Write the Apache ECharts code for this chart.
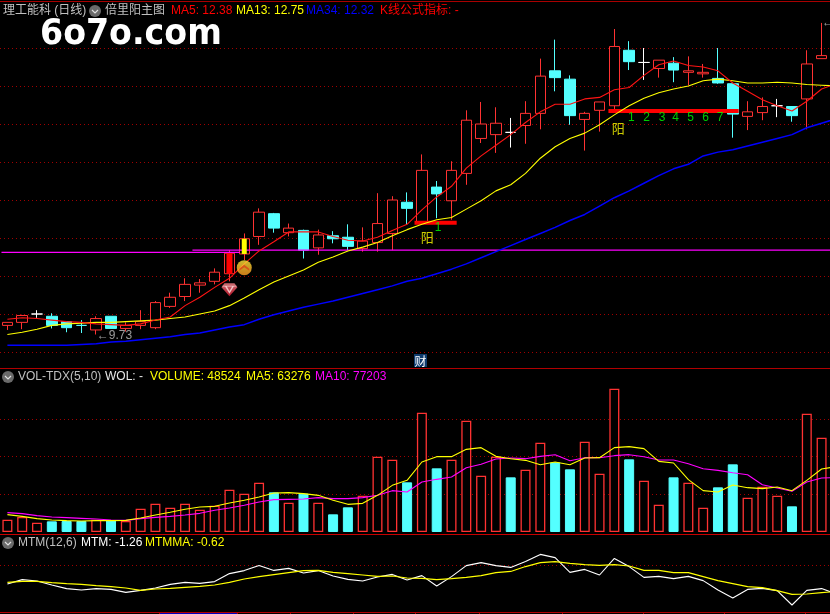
<!DOCTYPE html>
<html><head><meta charset="utf-8">
<style>html,body{margin:0;padding:0;background:#000}#c{width:830px;height:614px}</style>
<script src="https://cdn.jsdelivr.net/npm/echarts@6/dist/echarts.min.js"></script>
</head><body><div id="c"></div>
<script>
// [open, close, low, high]
const candles = [
[9.85,9.89,9.79,9.89],[9.89,9.98,9.80,9.99],[10.00,10.00,9.95,10.05],[9.97,9.85,9.81,10.01],[9.90,9.82,9.76,9.90],
[9.85,9.85,9.75,9.92],[9.79,9.94,9.73,9.97],[9.97,9.81,9.81,9.97],[9.81,9.85,9.77,9.89],[9.85,9.90,9.80,10.05],
[9.82,10.15,9.80,10.17],[10.10,10.22,10.08,10.28],[10.23,10.39,10.17,10.47],[10.38,10.41,10.28,10.46],[10.43,10.55,10.39,10.60],
[10.53,10.80,10.43,10.84],[10.79,10.99,10.71,11.06],[11.02,11.34,10.91,11.39],[11.32,11.13,11.07,11.33],[11.07,11.13,11.02,11.19],
[11.10,10.84,10.73,11.11],[10.87,11.04,10.78,11.11],[11.03,10.99,10.93,11.09],[11.01,10.89,10.84,11.18],[10.86,10.96,10.82,11.14],
[10.94,11.19,10.82,11.59],[11.06,11.50,10.84,11.55],[11.47,11.39,11.18,11.60],[11.21,11.89,11.20,12.10],[11.67,11.58,11.26,11.75],
[11.49,11.89,11.24,12.01],[11.85,12.55,11.70,12.68],[12.31,12.50,12.25,12.79],[12.36,12.51,12.12,12.72],[12.39,12.39,12.19,12.58],
[12.48,12.64,12.24,12.80],[12.64,13.13,12.43,13.36],[13.20,13.11,12.93,13.61],[13.09,12.61,12.49,13.14],[12.56,12.64,12.15,12.66],
[12.68,12.79,12.40,12.79],[12.74,13.52,12.68,13.75],[13.47,13.32,13.21,13.59],[13.31,13.31,13.08,13.50],[13.23,13.34,13.11,13.34],
[13.30,13.21,13.05,13.38],[13.18,13.20,13.01,13.39],[13.16,13.18,13.11,13.29],[13.10,13.04,13.03,13.50],[13.03,12.63,12.32,13.03],
[12.60,12.66,12.42,12.80],[12.65,12.73,12.55,12.85],[12.74,12.74,12.59,12.83],[12.73,12.61,12.53,12.73],[12.83,13.29,12.43,13.47],
[13.36,13.40,13.36,13.83]];
const whiteDoji = [2,34,43,52];
const cyanDoji = [5];
// the lines run one bar further than the candles, off the right edge of the window
const ma5 = [9.93,9.95,9.94,9.92,9.90,9.89,9.87,9.86,9.85,9.87,9.92,9.96,10.11,10.22,10.35,10.47,10.66,10.83,10.95,11.08,11.08,11.08,11.02,10.97,10.96,11.01,11.10,11.18,11.37,11.54,11.68,11.92,12.08,12.22,12.36,12.52,12.66,12.76,12.76,12.83,12.85,12.95,12.98,13.14,13.28,13.33,13.27,13.25,13.20,13.04,12.93,12.82,12.74,12.67,12.80,12.96,13.03];
const ma13 = [9.73,9.76,9.80,9.85,9.87,9.88,9.89,9.89,9.90,9.91,9.92,9.94,9.96,10.00,10.04,10.11,10.21,10.32,10.42,10.50,10.58,10.68,10.75,10.83,10.88,10.94,11.03,11.11,11.18,11.24,11.27,11.38,11.49,11.62,11.70,11.85,12.05,12.20,12.31,12.38,12.49,12.62,12.74,12.84,12.91,12.96,13.00,13.07,13.09,13.07,13.04,13.04,13.05,13.04,13.02,13.01,13.00];
const ma34 = [9.59,9.59,9.59,9.59,9.59,9.60,9.61,9.63,9.64,9.66,9.68,9.70,9.73,9.75,9.79,9.83,9.86,9.93,9.99,10.04,10.09,10.13,10.17,10.22,10.27,10.32,10.37,10.43,10.47,10.53,10.59,10.66,10.74,10.82,10.90,10.98,11.06,11.14,11.23,11.31,11.42,11.53,11.62,11.72,11.82,11.91,11.97,12.08,12.13,12.16,12.21,12.26,12.31,12.36,12.45,12.51,12.57];
const volume = [12090,14700,9150,10450,10780,10780,12090,11430,10780,22870,27770,23850,27770,21890,25810,41490,37570,48350,38880,28750,37570,28750,17320,24180,35610,73830,70890,48680,116960,62400,70890,109120,55210,73830,53580,61090,87560,68280,61420,88540,57170,140480,71220,50310,26790,53580,48350,23850,43780,66320,33650,44430,35610,25160,115980,92460];
const volDown = [3,4,5,7,18,20,22,23,27,29,34,37,38,42,45,48,49,53];
const volMa5 = [16990,15350,13070,11760,11110,10780,11110,11110,11430,13720,16660,19280,22220,24500,25160,28420,31040,34300,38220,38550,37570,35940,31040,27120,28100,35940,45740,50640,68610,73830,73830,81020,82660,74160,71870,70240,65990,68610,65990,72530,72850,82660,83640,81680,69260,67630,51290,40510,39200,46060,43450,42470,44100,40510,50640,61750,64030];
const volMa10 = [18950,17970,16010,14700,14050,13390,12740,11760,11430,13070,14370,15350,16660,18300,21240,23520,26140,29400,31690,32020,32340,33650,32670,32670,33650,35940,40510,39200,49010,51620,53910,63050,66320,71550,72530,71870,74160,75790,69910,72850,72850,74810,75790,73830,70570,70570,66970,62070,60440,58150,56190,46390,43120,39860,49010,52930,53250];
const mtm = [-0.95,-0.73,-0.80,-1.00,-1.18,-1.25,-1.18,-1.22,-1.37,-1.27,-1.15,-0.97,-0.87,-0.92,-0.83,-0.43,-0.28,-0.02,-0.27,-0.17,-0.40,-0.28,-0.55,-0.72,-0.80,-0.60,-0.47,-0.75,-0.53,-1.05,-0.58,-0.03,0.12,-0.03,-0.12,0.17,0.53,0.37,-0.37,-0.22,-0.50,0.33,-0.08,-0.62,-0.57,-0.68,-0.57,-0.78,-1.25,-1.65,-1.22,-1.17,-1.28,-2.00,-1.27,-1.18,-1.45];
const mtmma = [-0.87,-0.82,-0.82,-0.88,-0.93,-0.97,-1.03,-1.08,-1.15,-1.27,-1.20,-1.17,-1.12,-1.07,-1.00,-0.87,-0.70,-0.58,-0.48,-0.38,-0.28,-0.27,-0.37,-0.43,-0.50,-0.57,-0.55,-0.65,-0.67,-0.73,-0.68,-0.62,-0.53,-0.38,-0.32,-0.08,0.12,0.17,0.08,0.02,-0.02,0.02,-0.05,-0.27,-0.27,-0.38,-0.38,-0.58,-0.78,-0.93,-1.08,-1.13,-1.28,-1.47,-1.45,-1.38,-1.33];
// overlay levels: [x in bar units, price]
const magentaLow = [[0.1,10.81],[16.2,10.81]];
const magentaHigh = [[13,10.84],[57,10.84]];
const signalBarA = [[28,11.20],[30.85,11.20]];
const signalBarB = [[41.1,12.67],[49.9,12.67]];
const strongBar = [[15.5,10.53],[15.5,10.80]];
const yellowBar = [[16.5,10.79],[16.5,10.99]];
const yangMarks = [[28.86,11.00],[41.77,12.43]];
const countMarks = [[29.6,11.13,'1'],[42.65,12.58,'1'],[43.68,12.58,'2'],[44.72,12.58,'3'],[45.63,12.58,'4'],[46.65,12.58,'5'],[47.66,12.58,'6'],[48.65,12.58,'7']];
const lowMark = [[6,9.72,'\u21909.73']];
const highMark = [[55,13.83,'\u219013.83']];
const coinMark = [[16,10.61]];
const gemMark = [[15,10.32]];
const categories = candles.map((_, i) => String(i + 1));

const RED='#ff3232', CYAN='#54ffff', FONT='"Liberation Sans","Noto Sans CJK SC",sans-serif';
const candleData = candles.map((c,i)=>{
  const col = whiteDoji.includes(i)?'#ffffff':cyanDoji.includes(i)?CYAN:null;
  if(!col) return {value:c};
  return {value:c,itemStyle:{color:col,color0:col,borderColor:col,borderColor0:col,borderColorDoji:col}};
});
const volData = volume.map((v,i)=>({value:v,itemStyle:volDown.includes(i)
  ?{color:CYAN,borderColor:CYAN,borderWidth:1}:{color:'#000',borderColor:RED,borderWidth:1.3}}));
const onBars = arr => arr.map((v,i)=>[i+0.5,v]);

const dotted = {show:true,lineStyle:{color:'#a00000',type:[1,3],width:1}};
function yAxis(grid,min,max,interval){return {type:'value',gridIndex:grid,min,max,interval,scale:true,axisLabel:{show:false},axisLine:{show:false},axisTick:{show:false},splitLine:dotted};}
function xCat(grid){return {type:'category',gridIndex:grid,data:categories,boundaryGap:true,show:false};}
function xVal(grid){return {type:'value',gridIndex:grid,min:0,max:categories.length,show:false};}
function ln(name,data,color,x,y,w){return {name,type:'line',data,xAxisIndex:x,yAxisIndex:y,clip:false,showSymbol:false,symbol:'none',silent:true,animation:false,lineStyle:{color,width:w||1.1},itemStyle:{color},z:4};}
function seg(name,data,color,w){const s=ln(name,data,color,1,0,w);s.lineStyle.cap='butt';s.z=3;return s;}
function txt(name,data,color,labelPos,fmt,size){return {name,type:'scatter',data,xAxisIndex:labelPos.axis,yAxisIndex:0,symbolSize:1,itemStyle:{color:'rgba(0,0,0,0)'},silent:true,animation:false,z:6,
  label:{show:true,position:labelPos.pos,distance:0,color,fontSize:size||12,fontFamily:FONT,formatter:fmt}};}

const hdr=(text,x,y,color)=>({type:'text',silent:true,x,y,z:20,style:{text,fill:color,font:'12px '+FONT,textVerticalAlign:'middle'}});
const icon=(x,y)=>[{type:'circle',silent:true,z:20,shape:{cx:x,cy:y,r:6},style:{fill:'#6a6a6a'}},
  {type:'polyline',silent:true,z:21,shape:{points:[[x-3,y-1],[x,y+2],[x+3,y-1]]},style:{stroke:'#e0e0e0',lineWidth:1.2,fill:null}}];
const rule=(y,color)=>({type:'line',silent:true,z:10,shape:{x1:0,y1:y,x2:830,y2:y},style:{stroke:color,lineWidth:1}});
const bottomTicks=[159,237,290,353,415,479,562,643,724,805];

const graphic=[
  rule(1.5,'#a80000'),rule(368.5,'#b00000'),rule(534.5,'#c80000'),rule(612.5,'#b00000'),
  {type:'line',silent:true,z:11,shape:{x1:160,y1:613.5,x2:237,y2:613.5},style:{stroke:'#0000c0',lineWidth:1}},
  ...bottomTicks.map(x=>({type:'line',silent:true,z:11,shape:{x1:x+.5,y1:612,x2:x+.5,y2:614},style:{stroke:'#b00000',lineWidth:1}})),
  hdr('理工能科 (日线)',3,11,'#c0c0c0'),...icon(95,11),
  hdr('倍里阳主图',105,11,'#c0c0c0'),hdr('MA5: 12.38',171,11,'#ff0000'),hdr('MA13: 12.75',236,11,'#ffff00'),
  hdr('MA34: 12.32',306,11,'#0000ff'),hdr('K线公式指标: -',380,11,'#ff0000'),
  {type:'text',silent:true,x:40,y:35,z:20,scaleX:0.95,style:{text:'6o7o.com',fill:'#ffffff',font:'bold 35px "DejaVu Sans",sans-serif',textVerticalAlign:'middle'}},
  {type:'rect',silent:true,z:12,shape:{x:414,y:354,width:13,height:13},style:{fill:'#0f3c6e'}},
  {type:'text',silent:true,x:420.5,y:361,z:13,style:{text:'财',fill:'#fff',font:'12px "Noto Sans CJK SC"',textAlign:'center',textVerticalAlign:'middle'}},
  ...icon(8,377),hdr('VOL-TDX(5,10)',18,377,'#c0c0c0'),hdr('WOL: -',105,377,'#e8e8e8'),
  hdr('VOLUME: 48524',150,377,'#ffff00'),hdr('MA5: 63276',246,377,'#ffff00'),hdr('MA10: 77203',315,377,'#ff00ff'),
  ...icon(8,543),hdr('MTM(12,6)',18,543,'#c0c0c0'),hdr('MTM: -1.26',81,543,'#ffffff'),hdr('MTMMA: -0.62',145,543,'#ffff00')
];

const option={
  backgroundColor:'#000',animation:false,graphic,
  grid:[{left:-1,top:10,width:830,height:342},{left:-1,top:381,width:830,height:151},{left:-1,top:525,width:830,height:80}],
  xAxis:[xCat(0),xVal(0),xCat(1),xVal(1),xVal(2)],
  yAxis:[
    Object.assign(yAxis(0,9.5,14,0.5),{splitLine:Object.assign({},dotted,{showMinLine:true,showMaxLine:false})}),
    Object.assign(yAxis(1,0,148000,37000),{splitLine:Object.assign({},dotted,{showMinLine:false,showMaxLine:false})}),
    Object.assign(yAxis(2,-2,2,2),{splitLine:Object.assign({},dotted,{showMinLine:false,showMaxLine:false})})
  ],
  series:[
    {name:'K',type:'candlestick',data:candleData,xAxisIndex:0,yAxisIndex:0,barWidth:11,silent:true,animation:false,z:2,
     itemStyle:{color:'#000',color0:CYAN,borderColor:RED,borderColor0:CYAN,borderColorDoji:RED,borderWidth:1}},
    seg('level-a',magentaLow,'#ff00ff',1.2),seg('level-b',magentaHigh,'#ff00ff',1.2),
    seg('bar-a',signalBarA,'#ff0000',4),seg('bar-b',signalBarB,'#ff0000',4),
    seg('strong',strongBar,'#ff0000',6),seg('yellow',yellowBar,'#ffff00',5),
    ln('MA34',onBars(ma34),'#0000ff',1,0,1.5),ln('MA13',onBars(ma13),'#ffff00',1,0),ln('MA5',onBars(ma5),'#ff1414',1,0),
    txt('yang',yangMarks,'#ffff00',{axis:1,pos:'inside'},()=>'阳',13),
    txt('count',countMarks,'#00ff00',{axis:1,pos:'inside'},p=>p.value[2]),
    txt('low',lowMark,'#c0c0c0',{axis:0,pos:'right'},p=>p.value[2]),
    txt('high',highMark,'#c0c0c0',{axis:0,pos:'right'},p=>p.value[2]),
    {name:'coin',type:'scatter',data:coinMark,xAxisIndex:0,yAxisIndex:0,symbol:'circle',symbolSize:15,silent:true,animation:false,z:6,
     itemStyle:{color:{type:'linear',x:0,y:0,x2:0,y2:1,colorStops:[{offset:0,color:'#ffe838'},{offset:1,color:'#ff9c20'}]}}},
    {name:'coin-chevron',type:'scatter',data:coinMark,xAxisIndex:0,yAxisIndex:0,symbol:'path://M0 6 L6 0 L12 6 L12 9 L6 4 L0 9 Z',symbolSize:[10,6],silent:true,animation:false,z:7,itemStyle:{color:'#d84418'}},
    {name:'gem',type:'scatter',data:gemMark,xAxisIndex:0,yAxisIndex:0,symbol:'path://M3 0 L13 0 L16 4 L8 13 L0 4 Z',symbolSize:[16,13],silent:true,animation:false,z:6,
     itemStyle:{color:{type:'linear',x:0,y:0,x2:0,y2:1,colorStops:[{offset:0,color:'#ff8a90'},{offset:1,color:'#e01830'}]}}},
    {name:'gem-cut',type:'scatter',data:gemMark,xAxisIndex:0,yAxisIndex:0,symbol:'path://M0 0 L16 0 L16 1 L0 1 Z M3 1 L8 9 L13 1 L11 1 L8 6 L5 1 Z',symbolSize:[14,8],silent:true,animation:false,z:7,itemStyle:{color:'#ffe0e0'}},
    {name:'VOL',type:'bar',data:volData,xAxisIndex:2,yAxisIndex:1,barWidth:10,silent:true,animation:false,z:2},
    ln('VOL-MA10',onBars(volMa10),'#ff00ff',3,1),ln('VOL-MA5',onBars(volMa5),'#ffff00',3,1),
    ln('MTM',onBars(mtm),'#ffffff',4,2),ln('MTMMA',onBars(mtmma),'#ffff00',4,2)
  ]
};
echarts.init(document.getElementById('c'),null,{renderer:'canvas',width:830,height:614}).setOption(option);
</script></body></html>
